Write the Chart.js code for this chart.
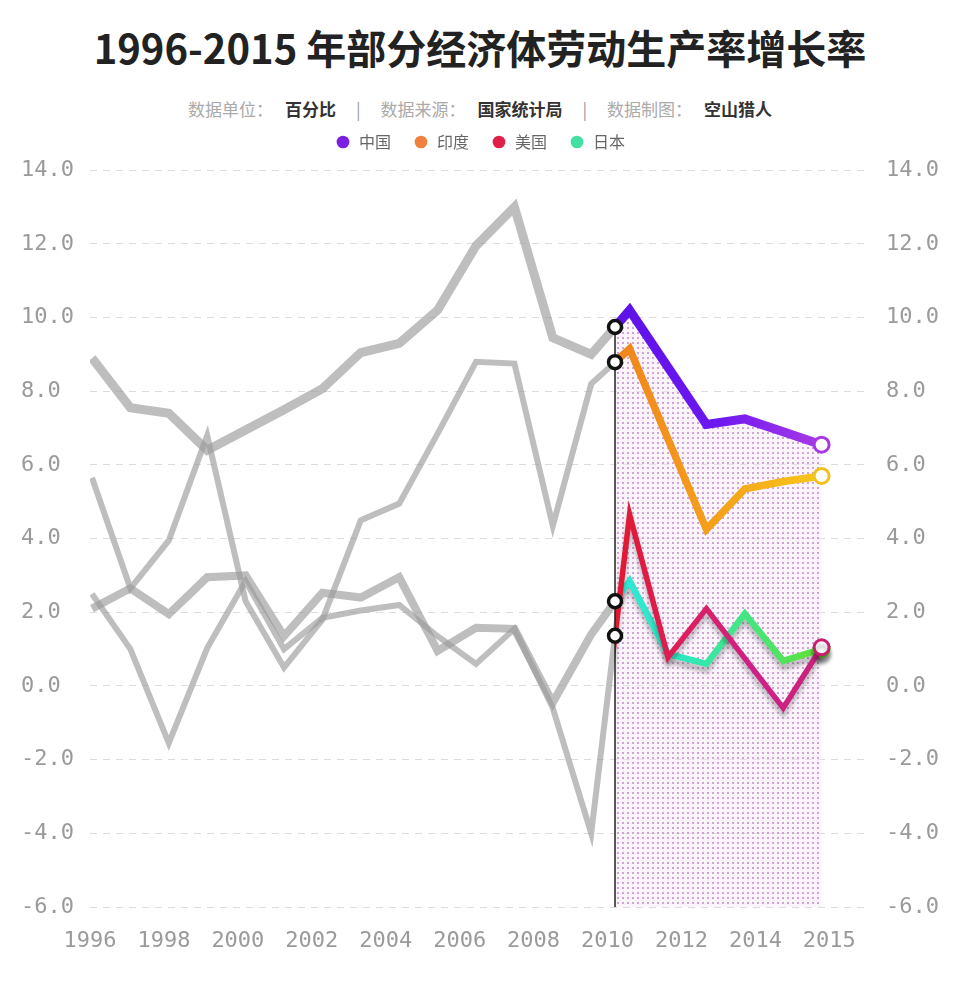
<!DOCTYPE html>
<html>
<head>
<meta charset="utf-8">
<script src="https://cdn.jsdelivr.net/npm/chart.js@4/dist/chart.umd.min.js"></script>
<style>
html,body{margin:0;padding:0;background:#fff;}
#wrap{position:relative;width:960px;height:1000px;overflow:hidden;font-family:"Noto Sans CJK SC","Noto Sans",sans-serif;}
#title{position:absolute;left:0;top:20px;width:960px;text-align:center;font-size:40px;font-weight:700;color:#222;line-height:54px;white-space:nowrap;}
#sub{position:absolute;left:0;top:97px;width:960px;text-align:center;font-size:17px;line-height:24px;color:#aaa;white-space:nowrap;}
#sub b{color:#333;font-weight:700;margin-left:12px;}
#sub .sep{color:#999;margin:0 20px;}
canvas{position:absolute;left:0;top:0;}
</style>
</head>
<body>
<div id="wrap">
  <div id="title">1996-2015 年部分经济体劳动生产率增长率</div>
  <div id="sub">数据单位：<b>百分比</b><span class="sep">|</span>数据来源：<b>国家统计局</b><span class="sep">|</span>数据制图：<b>空山猎人</b></div>
  <canvas id="c" width="960" height="1000"></canvas>
</div>
<script>
// ---------------- data ----------------
const years = [1996,1997,1998,1999,2000,2001,2002,2003,2004,2005,2006,2007,2008,2009,2010,2011,2012,2013,2014,2015];
const xTickLabels = ['1996','1998','2000','2002','2004','2006','2008','2010','2012','2014','2015'];
const countryNames = ['中国','印度','美国','日本'];
const china = [8.9,7.55,7.4,6.4,6.95,7.5,8.07,9.05,9.3,10.2,11.95,13.0,9.45,9.0,10.2,8.65,7.1,7.25,6.9,6.55];
const india = [5.65,2.65,3.95,6.8,2.3,0.5,1.8,4.5,4.95,6.85,8.8,8.75,4.35,8.2,9.15,6.7,4.25,5.35,5.55,5.7];
const usa   = [2.5,1.0,-1.55,1.03,2.85,1.0,1.85,2.05,2.2,1.35,0.6,1.55,-0.6,-4.0,4.65,0.78,2.1,0.75,-0.6,1.05];
const japan = [2.1,2.65,1.95,2.95,3.0,1.35,2.53,2.4,2.95,0.95,1.58,1.55,-0.45,1.4,2.85,0.87,0.6,1.96,0.68,1.0];
const splitYear = 2009.62;   // where the highlighted period begins
const yMin = -6, yMax = 14, yStep = 2;

// ---------------- styles ----------------
const styles = [
  {stops:['#5c12e8','#6e18f0','#a83ae6'], end:'#a83ae6', dot:'#7b1fe0', width:9, gray:9, order:3, shadow:false},
  {stops:['#f0841f','#f5a21a','#f6c81a'], end:'#f2c21c', dot:'#f08040', width:7.5, gray:6, order:2, shadow:false},
  {stops:['#e2182e','#dc1f5c','#cf2088','#c82478'], end:'#c8206e', dot:'#e02048', width:5.5, gray:6, order:0, shadow:true},
  {stops:['#30e8d8','#2ee8bc','#46e67c','#62e032'], end:'#62e032', dot:'#40e0a0', width:6.5, gray:8, order:1, shadow:true}
];
const seriesValues = [china, india, usa, japan];

const canvas = document.getElementById('c');
const ctx2d = canvas.getContext('2d');

function dotPattern(){
  const t = document.createElement('canvas');
  t.width = 5; t.height = 5;
  const g = t.getContext('2d');
  g.fillStyle = 'rgba(246,232,246,0.45)';
  g.fillRect(0,0,5,5);
  g.fillStyle = 'rgba(190,130,200,0.7)';
  g.fillRect(2,2,2,2);
  return ctx2d.createPattern(t,'repeat');
}

function lineGradient(chart, stops){
  const {chartArea, scales} = chart;
  if(!chartArea || !scales.x) return stops[0];
  const x0 = scales.x.getPixelForValue(splitYear);
  const x1 = scales.x.getPixelForValue(years[years.length-1]);
  const g = chart.ctx.createLinearGradient(x0,0,x1,0);
  stops.forEach((c,i)=>g.addColorStop(i/(stops.length-1), c));
  return g;
}

const pts = arr => years.map((y,i)=>({x:y, y:arr[i]}));
const pattern = dotPattern();
const lastIdx = years.length - 1;

const datasets = [];
seriesValues.forEach((vals, k) => {
  const s = styles[k];
  datasets.push({
    label: countryNames[k] + ' (1996-2010)',
    data: pts(vals),
    side: 'left',
    borderColor: 'rgba(155,155,155,0.65)',
    borderWidth: s.gray,
    borderJoinStyle: 'miter',
    pointRadius: 0,
    fill: false,
    tension: 0,
    order: 10 + k
  });
});
seriesValues.forEach((vals, k) => {
  const s = styles[k];
  datasets.push({
    label: countryNames[k],
    data: pts(vals),
    side: 'right',
    shadow: s.shadow,
    borderColor: c => lineGradient(c.chart, s.stops),
    borderWidth: s.width,
    borderJoinStyle: 'miter',
    tension: 0,
    fill: k === 0 ? 'start' : false,
    backgroundColor: k === 0 ? pattern : 'transparent',
    pointRadius: c => c.dataIndex === lastIdx ? 7.5 : 0,
    pointBackgroundColor: '#fff',
    pointBorderColor: s.end,
    pointBorderWidth: 3,
    order: s.order
  });
});

// clip the grey past to the left of the split and the coloured part to the right
const splitClip = {
  id: 'splitClip',
  beforeDatasetDraw(chart, args){
    const ds = chart.data.datasets[args.index];
    if(!ds.side) return;
    const ctx = chart.ctx;
    const sx = chart.scales.x.getPixelForValue(splitYear);
    ctx.save();
    ctx.beginPath();
    if(ds.side === 'left') ctx.rect(0, 0, sx, chart.height);
    else ctx.rect(sx, 0, chart.width - sx, chart.height);
    ctx.clip();
    if(ds.shadow){
      ctx.shadowColor = 'rgba(0,0,0,0.25)';
      ctx.shadowBlur = 4;
      ctx.shadowOffsetY = 6;
    }
  },
  afterDatasetDraw(chart, args){
    const ds = chart.data.datasets[args.index];
    if(!ds.side) return;
    chart.ctx.restore();
  }
};

// vertical split line and the black rings where each grey line meets it
const splitMarks = {
  id: 'splitMarks',
  afterDatasetsDraw(chart){
    const ctx = chart.ctx;
    const area = chart.chartArea;
    const sx = chart.scales.x.getPixelForValue(splitYear);
    const ys = [];
    chart.data.datasets.forEach((ds, i) => {
      if(ds.side !== 'left') return;
      const p = chart.getDatasetMeta(i).data;
      for(let j = 0; j < p.length - 1; j++){
        const a = p[j], b = p[j+1];
        if(a.x <= sx && b.x >= sx){
          const t = (sx - a.x) / (b.x - a.x);
          ys.push(a.y + (b.y - a.y) * t);
          break;
        }
      }
    });
    if(!ys.length) return;
    ctx.save();
    ctx.strokeStyle = '#222';
    ctx.lineWidth = 1.5;
    ctx.beginPath();
    ctx.moveTo(sx, Math.min(...ys));
    ctx.lineTo(sx, area.bottom);
    ctx.stroke();
    ys.forEach(y => {
      ctx.beginPath();
      ctx.arc(sx, y, 6.5, 0, Math.PI * 2);
      ctx.fillStyle = '#fff';
      ctx.fill();
      ctx.lineWidth = 3.5;
      ctx.strokeStyle = '#111';
      ctx.stroke();
    });
    ctx.restore();
  }
};

const fillerPlugin = Chart.registry.getPlugin('filler');
if(fillerPlugin) Chart.unregister(fillerPlugin);
Chart.register(splitClip);
if(fillerPlugin) Chart.register(fillerPlugin);

const tickFont = {family: '"DejaVu Sans Mono", monospace', size: 22};
const tickColor = '#9a9a9a';

new Chart(canvas, {
  type: 'line',
  data: {datasets},
  plugins: [splitMarks],
  options: {
    responsive: false,
    animation: false,
    devicePixelRatio: 1,
    events: [],
    layout: {padding: {top: 112, left: 21, right: 21, bottom: 46}},
    plugins: {
      tooltip: {enabled: false},
      title: {display: true, text: '', weight: 500, font: {size: 1}, padding: {top: 0, bottom: 9}},
      legend: {
        position: 'top',
        labels: {
          usePointStyle: true,
          pointStyle: 'circle',
          boxWidth: 16,
          boxHeight: 9,
          padding: 22,
          color: '#666',
          font: {family: '"Noto Sans CJK SC", sans-serif', size: 16},
          generateLabels: () => countryNames.map((n, k) => ({
            text: n, fillStyle: styles[k].dot, strokeStyle: styles[k].dot,
            fontColor: '#666', lineWidth: 0, pointStyle: 'circle', hidden: false, datasetIndex: 4 + k
          }))
        }
      }
    },
    scales: {
      x: {type: 'linear', display: false, min: 1995.948, max: 2016.26},
      xl: {
        type: 'linear', position: 'bottom', min: 0, max: 10.55,
        grid: {display: false, drawTicks: false}, border: {display: false},
        afterBuildTicks: s => { s.ticks = xTickLabels.map((t, i) => ({value: i})); },
        afterFit: s => { s.height = 47; s.paddingLeft = 0; s.paddingRight = 0; },
        ticks: {callback: v => xTickLabels[v], font: tickFont, color: tickColor, padding: 21, autoSkip: false, maxRotation: 0}
      },
      y: {
        position: 'left', min: yMin, max: yMax,
        afterFit: s => { s.width = 69; },
        ticks: {stepSize: yStep, callback: v => v.toFixed(1), crossAlign: 'far', padding: 16, font: tickFont, color: tickColor},
        grid: {color: '#dcdcdc', lineWidth: 1, drawTicks: false},
        border: {display: false, dash: [7, 6]}
      },
      y2: {
        position: 'right', min: yMin, max: yMax,
        afterFit: s => { s.width = 69; },
        ticks: {stepSize: yStep, callback: v => v.toFixed(1), crossAlign: 'near', padding: 16, font: tickFont, color: tickColor},
        grid: {display: false, drawTicks: false},
        border: {display: false}
      }
    }
  }
});
</script>
</body>
</html>
